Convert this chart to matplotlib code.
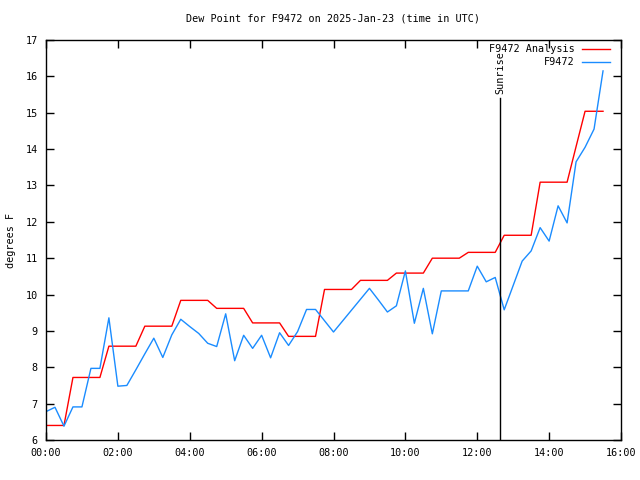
import matplotlib
matplotlib.use('Agg')
import matplotlib.pyplot as plt
import numpy as np

# Observation times: every 15 min from 00:00 to 15:30 (hours)
hours = np.arange(63) * 0.25

station = [6.78, 6.90, 6.38, 6.91, 6.91, 7.97, 7.97, 9.36, 7.48, 7.50,
           7.93, 8.37, 8.80, 8.27, 8.89, 9.32, 9.12, 8.93, 8.66, 8.57,
           9.47, 8.18, 8.88, 8.52, 8.88, 8.26, 8.95, 8.60, 8.98, 9.59,
           9.59, 9.28, 8.97, 9.27, 9.57, 9.87, 10.17, 9.85, 9.52, 9.69,
           10.65, 9.21, 10.17, 8.92, 10.10, 10.10, 10.10, 10.10, 10.78, 10.35,
           10.47, 9.58, 10.25, 10.92, 11.20, 11.84, 11.47, 12.44, 11.97, 13.65,
           14.05, 14.55, 16.15]

analysis = ([6.40] * 3 + [7.72] * 4 + [8.58] * 4 + [9.13] * 4 + [9.84] * 4
            + [9.62] * 4 + [9.22] * 4 + [8.85] * 4 + [10.14] * 4 + [10.39] * 4
            + [10.59] * 4 + [11.00] * 4 + [11.16] * 4 + [11.63] * 4 + [13.09] * 4
            + [14.07] + [15.04] * 3)

sunrise = 12.63
sunrise_top = 15.4

xticks = [0, 2, 4, 6, 8, 10, 12, 14, 16]
xticklabels = ['00:00', '02:00', '04:00', '06:00', '08:00', '10:00', '12:00', '14:00', '16:00']
yticks = list(range(6, 18))

FS = 7.3
plt.rcParams['font.family'] = 'DejaVu Sans Mono'
plt.rcParams['font.size'] = FS

fig = plt.figure(figsize=(6.4, 4.8), dpi=100)
ax = fig.add_axes([46 / 640, 40 / 480, 575 / 640, 400 / 480])

ax.plot(hours, analysis, color='#ff0000', linewidth=1, label='F9472 Analysis')
ax.plot(hours, station, color='#1a8cff', linewidth=1, label='F9472')

ax.plot([sunrise, sunrise], [6, sunrise_top], color='black', linewidth=1)
ax.text(sunrise, sunrise_top + 0.12, 'Sunrise', rotation=90, ha='center', va='bottom', fontsize=FS)

ax.set_xlim(0, 16)
ax.set_ylim(6, 17)
ax.set_xticks(xticks)
ax.set_xticklabels(xticklabels)
ax.set_yticks(yticks)
ax.tick_params(direction='in', length=6, top=True, right=True, width=1, pad=6)
for s in ax.spines.values():
    s.set_linewidth(1)

ax.set_title('Dew Point for F9472 on 2025-Jan-23 (time in UTC)', fontsize=FS, pad=13)
ax.set_ylabel('degrees F', fontsize=FS, labelpad=7)

ax.legend(loc='upper right', bbox_to_anchor=(0.988, 1.0), frameon=False, markerfirst=False,
          handlelength=2.8, borderaxespad=0, labelspacing=0.3, handletextpad=0.7, fontsize=FS)

fig.savefig('out.png', dpi=100)
